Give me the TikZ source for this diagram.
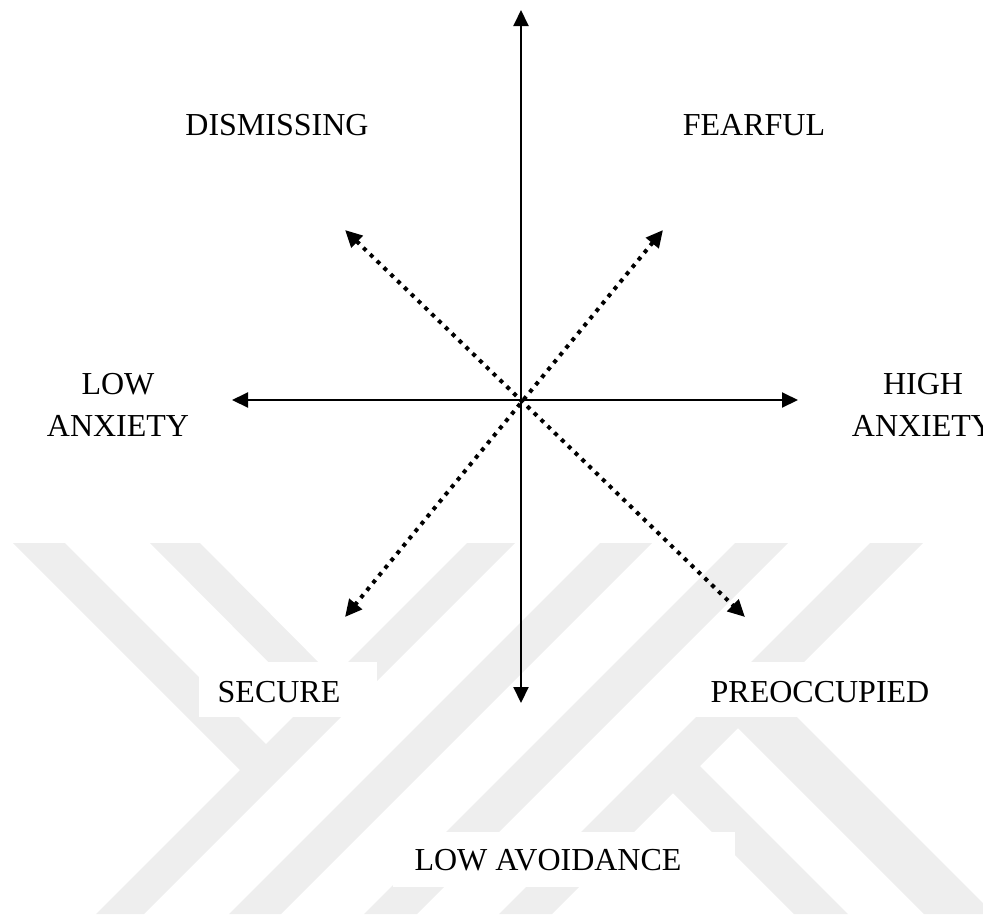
\documentclass[tikz,border=0pt]{standalone}
\usepackage{fontspec}
\setmainfont{Liberation Serif}
\usepackage{xcolor}
\definecolor{MarkGrey}{HTML}{EEEEEE}
\usepackage{tikz}
\usetikzlibrary{arrows.meta, backgrounds}
\tikzstyle{axisline} = [line width=2pt, {Triangle[length=16pt,width=15pt]}-{Triangle[length=16pt,width=15pt]}]
\tikzstyle{dotline} = [line width=4pt, dash pattern=on 4pt off 5.5pt, {Triangle[length=17pt,width=16pt]}-{Triangle[length=17pt,width=16pt]}]
\tikzstyle{quadrant} = [font=\fontsize{32}{42}\selectfont, align=center, inner sep=0pt]
\tikzstyle{band} = [fill=MarkGrey]
\tikzstyle{blank} = [fill=white]

\begin{document}
\begin{tikzpicture}[x=1pt, y=-1pt]
    \useasboundingbox (0,0) rectangle (983,914);

    % Watermark bands in the lower part
    \begin{scope}
        \clip (0,543) rectangle (983,914);
        \fill[band] (467,543) -- (515,543) -- (144,914) -- (96,914) -- cycle;
        \fill[band] (600,543) -- (652,543) -- (281,914) -- (229,914) -- cycle;
        \fill[band] (735,543) -- (788,543) -- (417,914) -- (364,914) -- cycle;
        \fill[band] (870,543) -- (923,543) -- (552,914) -- (499,914) -- cycle;
        \fill[band] (13,543) -- (65,543) -- (276,754) -- (250,780) -- cycle;
        \fill[band] (150,543) -- (200,543) -- (343,687) -- (318,712) -- cycle;
        \fill[band] (660,780) -- (687,753) -- (848,914) -- (794,914) -- cycle;
        \fill[band] (725,715) -- (760,680) -- (994,914) -- (924,914) -- cycle;
    \end{scope}
    \fill[blank] (199,662) rectangle (377,717);
    \fill[blank] (690,662) rectangle (950,717);
    \fill[blank] (393,832) rectangle (735,887);

    % Axes
    \coordinate (up) at (521,10);
    \coordinate (down) at (521,703);
    \coordinate (left) at (232,400);
    \coordinate (right) at (798,400);
    \coordinate (nw) at (345,230);
    \coordinate (ne) at (663,230);
    \coordinate (sw) at (345,617);
    \coordinate (se) at (745,617);

    \draw[axisline] (left) -- (right);
    \draw[axisline] (up) -- (down);
    \draw[dotline] (nw) -- (se);
    \draw[dotline] (ne) -- (sw);

    % Labels
    \node[quadrant, anchor=base] (dismissing) at (277,135) {DISMISSING};
    \node[quadrant, anchor=base] (fearful) at (754,135) {FEARFUL};
    \node[quadrant] (lowanx) at (118,404.5) {LOW\\ANXIETY};
    \node[quadrant] (highanx) at (923,404.5) {HIGH\\ANXIETY};
    \node[quadrant, anchor=base] (secure) at (279,702) {SECURE};
    \node[quadrant, anchor=base] (preocc) at (820,702) {PREOCCUPIED};
    \node[quadrant, anchor=base] (lowavoid) at (548,870) {LOW AVOIDANCE};
\end{tikzpicture}
\end{document}
